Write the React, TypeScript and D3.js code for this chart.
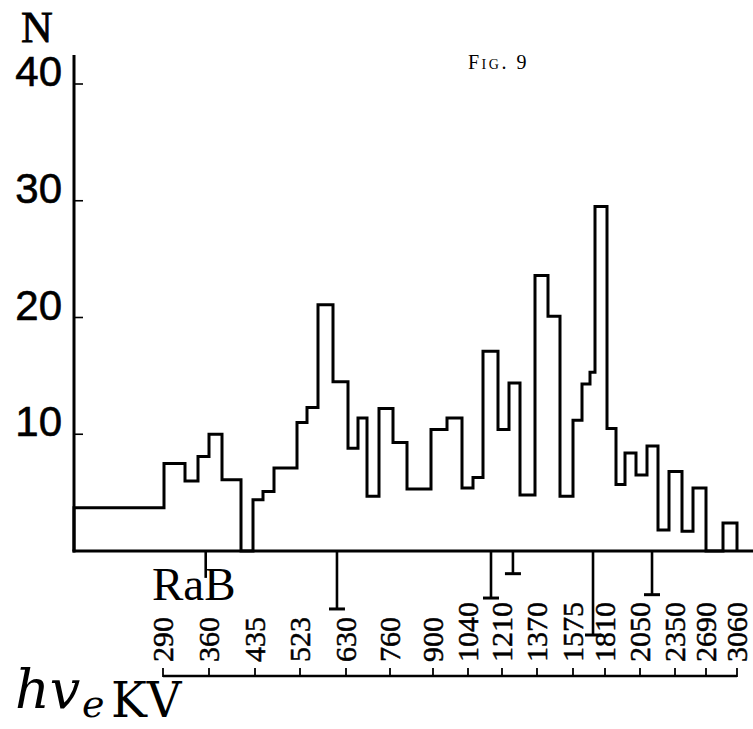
import React, { useEffect, useRef } from "react";
import * as d3 from "d3";

// histogram: bin edges along the plate (mm) and counts N per bin
const binEdges = [
  0, 9.0, 11.1, 12.4, 13.5, 14.8, 16.7, 17.9, 18.9, 20.0, 22.3, 23.3, 24.4,
  25.9, 27.4, 28.4, 29.3, 30.5, 31.9, 33.3, 35.7, 37.3, 38.8, 39.9, 40.9, 42.4,
  43.5, 44.6, 46.1, 47.4, 48.6, 49.9, 50.8, 51.6, 52.1, 53.3, 54.2, 55.1, 56.2,
  57.3, 58.4, 59.5, 60.8, 61.9, 63.2, 64.9, 66.3,
];
const binCounts = [
  3.7, 7.5, 6.0, 8.1, 10.0, 6.1, 0, 4.4, 5.1, 7.1, 11.0, 12.3, 21.1, 14.5, 8.8,
  11.4, 4.7, 12.2, 9.3, 5.3, 10.4, 11.4, 5.4, 6.3, 17.1, 10.4, 14.4, 4.8, 23.6,
  20.1, 4.7, 11.2, 14.3, 15.3, 29.5, 10.5, 5.7, 8.4, 6.5, 9.0, 1.8, 6.8, 1.7,
  5.4, 0, 2.4,
];

const nTicks = [10, 20, 30, 40];

// energy scale (keV) and where each tick falls on the plate (mm)
const energyTicks = [
  290, 360, 435, 523, 630, 760, 900, 1040, 1210, 1370, 1575, 1810, 2050, 2350,
  2690, 3060,
];
const energyTickPos = [
  8.9, 13.5, 18.1, 22.6, 27.2, 31.6, 35.9, 39.4, 42.8, 46.3, 49.9, 53.1, 56.6,
  60.1, 63.2, 66.3,
];

// known lines (keV) and relative strength
const lineEnergies = [355, 609, 1155, 1260, 1722, 2153];
const lineStrength = [0.32, 0.69, 0.56, 0.27, 1.0, 0.52];

const App = () => {
  const ref = useRef(null);

  useEffect(() => {
    const width = 753;
    const height = 729;
    const axisX = 74;
    const base = 551;

    const svg = d3.select(ref.current);
    svg.selectAll("*").remove();
    svg.attr("width", width).attr("height", height);

    const x = d3.scaleLinear().domain([0, 67.9]).range([axisX, width]);
    const y = d3.scaleLinear().domain([0, 40]).range([base, 84]);
    const ePos = d3.scaleLinear().domain(energyTicks).range(energyTickPos);
    const drop = d3.scaleLinear().domain([0, 1]).range([0, 84]);

    // axes
    svg
      .append("line")
      .attr("x1", axisX)
      .attr("x2", axisX)
      .attr("y1", 55)
      .attr("y2", base + 1.5)
      .attr("stroke", "#000")
      .attr("stroke-width", 3);
    svg
      .append("line")
      .attr("x1", axisX - 1.5)
      .attr("x2", width)
      .attr("y1", base)
      .attr("y2", base)
      .attr("stroke", "#000")
      .attr("stroke-width", 3);

    const yt = svg.append("g");
    nTicks.forEach((t) => {
      yt.append("line")
        .attr("x1", axisX)
        .attr("x2", axisX + 9)
        .attr("y1", y(t))
        .attr("y2", y(t))
        .attr("stroke", "#000")
        .attr("stroke-width", 1.6);
      yt.append("text")
        .attr("x", 62)
        .attr("y", y(t) + 2)
        .attr("text-anchor", "end")
        .style("font-family", "'Liberation Sans', Arial, sans-serif")
        .style("font-size", "42px")
        .style("stroke", "#000")
        .style("stroke-width", 0.6)
        .text(t);
    });

    svg
      .append("text")
      .attr("x", 37)
      .attr("y", 42)
      .attr("text-anchor", "middle")
      .style("font-family", "'Liberation Serif', serif")
      .style("font-size", "44px")
      .style("stroke", "#000")
      .style("stroke-width", 0.8)
      .text("N");

    svg
      .append("text")
      .attr("x", 468)
      .attr("y", 69)
      .style("font-family", "'Liberation Serif', serif")
      .style("font-size", "20px")
      .style("font-variant", "small-caps")
      .style("letter-spacing", "2.5px")
      .text("Fig. 9");

    // histogram outline
    const pts = [[binEdges[0], 0]];
    binCounts.forEach((c, i) => {
      pts.push([binEdges[i], c]);
      pts.push([binEdges[i + 1], c]);
    });
    pts.push([binEdges[binEdges.length - 1], 0]);

    svg
      .append("path")
      .attr(
        "d",
        d3
          .line()
          .x((d) => x(d[0]))
          .y((d) => y(d[1]))(pts)
      )
      .attr("fill", "none")
      .attr("stroke", "#000")
      .attr("stroke-width", 3)
      .attr("stroke-linejoin", "miter");

    svg
      .append("text")
      .attr("x", 152)
      .attr("y", 600)
      .style("font-family", "'Liberation Serif', serif")
      .style("font-size", "47px")
      .text("RaB");

    // line markers hanging below the baseline
    lineEnergies.forEach((e, i) => {
      const lx = x(ePos(e));
      const ly = base + drop(lineStrength[i]);
      svg
        .append("line")
        .attr("x1", lx)
        .attr("x2", lx)
        .attr("y1", base)
        .attr("y2", ly)
        .attr("stroke", "#000")
        .attr("stroke-width", 2.6);
      if (i > 0) {
        svg
          .append("line")
          .attr("x1", lx - 8)
          .attr("x2", lx + 8)
          .attr("y1", ly)
          .attr("y2", ly)
          .attr("stroke", "#000")
          .attr("stroke-width", 3);
      }
    });

    // energy axis
    const ey = 676;
    const ex = energyTickPos.map((p) => x(p));
    svg
      .append("line")
      .attr("x1", ex[0])
      .attr("x2", ex[ex.length - 1])
      .attr("y1", ey)
      .attr("y2", ey)
      .attr("stroke", "#000")
      .attr("stroke-width", 2.5);

    energyTicks.forEach((e, i) => {
      const tx = x(ePos(e));
      svg
        .append("line")
        .attr("x1", tx)
        .attr("x2", tx)
        .attr("y1", ey - 8)
        .attr("y2", ey + 1)
        .attr("stroke", "#000")
        .attr("stroke-width", 1.8);
      svg
        .append("text")
        .attr("transform", `translate(${tx + 10},662) rotate(-90)`)
        .style("font-family", "'Liberation Serif', serif")
        .style("font-size", "30px")
        .style("stroke", "#000")
        .style("stroke-width", 0.5)
        .text(e);
    });

    // axis title
    const title = svg.append("g");
    title
      .append("text")
      .attr("x", 15)
      .attr("y", 708)
      .style("font-family", "'DejaVu Serif', serif")
      .style("font-style", "italic")
      .style("font-size", "54px")
      .text("hv");
    title
      .append("text")
      .attr("x", 82)
      .attr("y", 717)
      .style("font-family", "'DejaVu Serif', serif")
      .style("font-style", "italic")
      .style("font-size", "38px")
      .text("e");
    title
      .append("text")
      .attr("x", 111)
      .attr("y", 717)
      .style("font-family", "'DejaVu Serif', serif")
      .style("font-size", "48px")
      .text("KV");
  }, []);

  return (
    <div style={{ position: "absolute", left: 0, top: 0 }}>
      <svg ref={ref} style={{ display: "block", background: "#fff" }}></svg>
    </div>
  );
};

export default App;
